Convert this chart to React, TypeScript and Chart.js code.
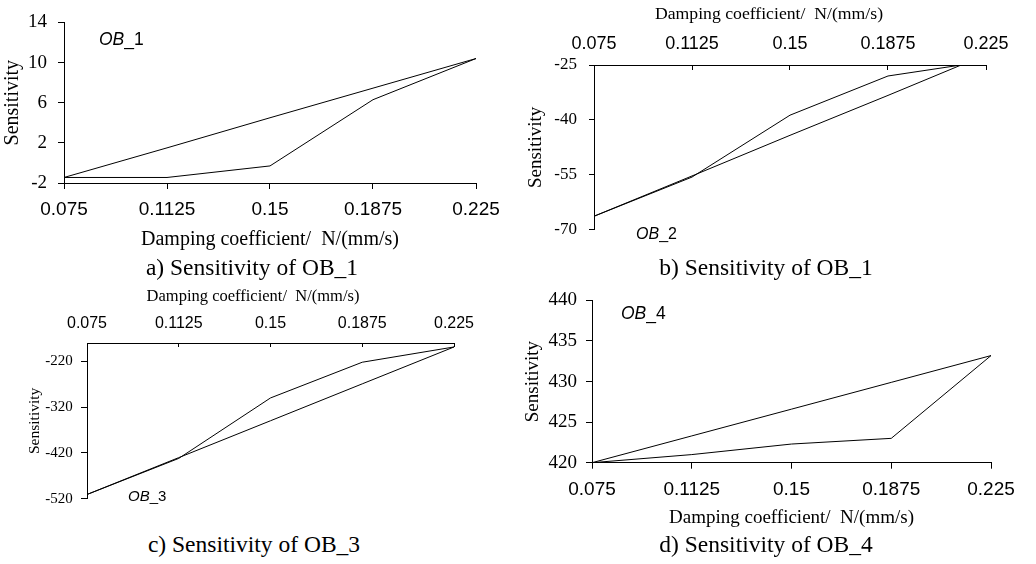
import React, { useEffect, useRef } from 'react';
import { Chart, registerables } from 'chart.js';
Chart.register(...registerables);

// ---------- data ----------
const xTickValues = [0.075, 0.1125, 0.15, 0.1875, 0.225];

const xA = [0.075, 0.1125, 0.15, 0.1875, 0.225];
const aLower = [-1.45, -1.45, -0.3, 6.3, 10.4];
const aUpper = [-1.45, 1.5, 4.5, 7.45, 10.4];
const yTicksA = [-2, 2, 6, 10, 14];

const xB = [0.075, 0.1125, 0.15, 0.1875, 0.2155];
const bCurve = [-66.3, -55.6, -38.7, -28.0, -25];
const bStraight = [-66.3, -55.3, -44.2, -33.3, -25];
const yTicksB = [-70, -55, -40, -25];

const xC = [0.075, 0.1125, 0.15, 0.1875, 0.225];
const cCurve = [-510.8, -432, -300, -222, -188.7];
const cStraight = [-510.8, -430.3, -349.8, -269.2, -188.7];
const yTicksC = [-520, -420, -320, -220];

const xD = [0.075, 0.1125, 0.15, 0.1875, 0.225];
const dLower = [420, 421, 422.3, 423, 433.2];
const dUpper = [420, 423.3, 426.6, 429.9, 433.2];
const yTicksD = [420, 425, 430, 435, 440];

const xTitle = 'Damping coefficient/  N/(mm/s)';
const yTitle = 'Sensitivity';

// ---------- styles ----------
const SANS = '"Liberation Sans", Arial, sans-serif';
const SERIF = '"Liberation Serif", "Times New Roman", serif';

type Spec = {
  left: number; top: number; w: number; h: number;
  xPos: 'top' | 'bottom';
  xs: number[]; series: number[][];
  yMin: number; yMax: number; yTicks: number[];
  padding: { left: number; right: number; top: number; bottom: number };
  yWidth: number; xHeight: number;
  xTickSize: number; xTickPad: number; xTickLen: number;
  xTitleOnAxis: boolean; xTitleSize: number; xTitlePad: number;
  yTickSize: number; yTickPad: number; yTickLen: number;
  yTitleSize: number; yTitlePad: number;
};

const specs: Spec[] = [
  {
    left: 0, top: 0, w: 510, h: 252, xPos: 'bottom',
    xs: xA, series: [aLower, aUpper], yMin: -2, yMax: 14, yTicks: yTicksA,
    padding: { left: 0, right: 34, top: 13, bottom: 0 },
    yWidth: 64, xHeight: 69,
    xTickSize: 19, xTickPad: 9.6, xTickLen: 6, xTitleOnAxis: true, xTitleSize: 20, xTitlePad: 0.5,
    yTickSize: 19, yTickPad: 11, yTickLen: 6, yTitleSize: 20, yTitlePad: 1,
  },
  {
    left: 500, top: 0, w: 536, h: 252, xPos: 'top',
    xs: xB, series: [bCurve, bStraight], yMin: -70, yMax: -25, yTicks: yTicksB,
    padding: { left: 0, right: 50, top: 0, bottom: 14 },
    yWidth: 94, xHeight: 65,
    xTickSize: 18, xTickPad: 15.2, xTickLen: -5, xTitleOnAxis: false, xTitleSize: 18, xTitlePad: 3.2,
    yTickSize: 17, yTickPad: 12, yTickLen: 5, yTitleSize: 19, yTitlePad: 24.6,
  },
  {
    left: 0, top: 280, w: 500, h: 236, xPos: 'top',
    xs: xC, series: [cCurve, cStraight], yMin: -520, yMax: -180, yTicks: yTicksC,
    padding: { left: 0, right: 46, top: 0, bottom: 15 },
    yWidth: 87, xHeight: 63,
    xTickSize: 16, xTickPad: 13.4, xTickLen: -4, xTitleOnAxis: false, xTitleSize: 16.5, xTitlePad: 6.1,
    yTickSize: 15, yTickPad: 8.3, yTickLen: 6, yTitleSize: 15.5, yTitlePad: 25.7,
  },
  {
    left: 500, top: 280, w: 536, h: 252, xPos: 'bottom',
    xs: xD, series: [dLower, dUpper], yMin: 420, yMax: 440, yTicks: yTicksD,
    padding: { left: 0, right: 45, top: 15.7, bottom: 0 },
    yWidth: 92, xHeight: 69.3,
    xTickSize: 19, xTickPad: 9.4, xTickLen: 6, xTitleOnAxis: true, xTitleSize: 19, xTitlePad: 2.6,
    yTickSize: 19, yTickPad: 9, yTickLen: 6, yTitleSize: 19, yTitlePad: 21.6,
  },
];

// x-axis titles of panels b and c sit off-centre in the original, so they are placed directly
const freeXTitles = [
  { x: 769, y: 14, size: 17.7 },
  { x: 253, y: 296, size: 16.5 },
];

const captions = [
  { text: 'a) Sensitivity of OB_1', x: 252, y: 268 },
  { text: 'b) Sensitivity of OB_1', x: 766, y: 268 },
  { text: 'c) Sensitivity of OB_3', x: 254, y: 545 },
  { text: 'd) Sensitivity of OB_4', x: 766, y: 545 },
];

const obLabels = [
  { n: '1', x: 99, y: 31, size: 17.5 },
  { n: '2', x: 636, y: 226, size: 16 },
  { n: '3', x: 128, y: 488, size: 15 },
  { n: '4', x: 621, y: 305, size: 17.5 },
];

function buildConfig(s: Spec): any {
  return {
    type: 'line',
    data: {
      datasets: s.series.map((ys) => ({
        data: s.xs.map((x, i) => ({ x, y: ys[i] })),
        borderColor: '#000',
        borderWidth: 1,
        pointRadius: 0,
        fill: false,
        tension: 0,
      })),
    },
    options: {
      responsive: false,
      animation: false,
      devicePixelRatio: 1,
      layout: { padding: s.padding },
      plugins: { legend: { display: false }, tooltip: { enabled: false } },
      scales: {
        x: {
          type: 'linear',
          position: s.xPos,
          min: 0.075,
          max: 0.225,
          afterBuildTicks: (sc: any) => { sc.ticks = xTickValues.map((v) => ({ value: v })); },
          afterFit: (sc: any) => { sc.height = s.xHeight; },
          ticks: {
            color: '#000',
            font: { family: SANS, size: s.xTickSize },
            padding: s.xTickPad,
            maxRotation: 0,
            autoSkip: false,
            callback: (v: any) => String(v),
          },
          grid: { display: true, drawOnChartArea: false, drawTicks: true, tickLength: s.xTickLen, color: '#000' },
          border: { display: true, color: '#000', width: 1 },
          title: {
            display: s.xTitleOnAxis, text: xTitle, color: '#000',
            font: { family: SERIF, size: s.xTitleSize },
            padding: { top: s.xTitlePad, bottom: s.xTitlePad },
          },
        },
        y: {
          type: 'linear',
          position: 'left',
          min: s.yMin,
          max: s.yMax,
          afterBuildTicks: (sc: any) => { sc.ticks = s.yTicks.map((v) => ({ value: v })); },
          afterFit: (sc: any) => { sc.width = s.yWidth; },
          ticks: {
            color: '#000',
            font: { family: SERIF, size: s.yTickSize },
            padding: s.yTickPad,
            callback: (v: any) => String(v),
          },
          grid: { display: true, drawOnChartArea: false, drawTicks: true, tickLength: s.yTickLen, color: '#000' },
          border: { display: true, color: '#000', width: 1 },
          title: {
            display: true, text: yTitle, color: '#000',
            font: { family: SERIF, size: s.yTitleSize },
            padding: { top: s.yTitlePad, bottom: 0 },
          },
        },
      },
    },
  };
}

function Panel({ spec }: { spec: Spec }) {
  const ref = useRef<HTMLCanvasElement>(null);
  useEffect(() => {
    if (!ref.current) return;
    const chart = new Chart(ref.current, buildConfig(spec));
    return () => chart.destroy();
  }, [spec]);
  return (
    <canvas
      ref={ref}
      width={spec.w}
      height={spec.h}
      style={{ position: 'absolute', left: spec.left, top: spec.top, width: spec.w, height: spec.h }}
    />
  );
}

export default function App() {
  return (
    <div style={{ position: 'absolute', left: 0, top: 0, width: 1036, height: 564, background: '#fff', overflow: 'hidden' }}>
      {specs.map((s, i) => <Panel key={i} spec={s} />)}
      {freeXTitles.map((t, i) => (
        <div
          key={'t' + i}
          style={{
            position: 'absolute', left: t.x, top: t.y, transform: 'translate(-50%, -50%)',
            fontFamily: SERIF, fontSize: t.size, lineHeight: 1, whiteSpace: 'pre', color: '#000',
          }}
        >
          {xTitle}
        </div>
      ))}
      {captions.map((c, i) => (
        <div
          key={'c' + i}
          style={{
            position: 'absolute', left: c.x, top: c.y, transform: 'translate(-50%, -50%)',
            fontFamily: SERIF, fontSize: 23.5, lineHeight: 1, whiteSpace: 'nowrap', color: '#000',
          }}
        >
          {c.text}
        </div>
      ))}
      {obLabels.map((o, i) => (
        <div
          key={'o' + i}
          style={{
            position: 'absolute', left: o.x, top: o.y, fontFamily: SANS, fontSize: o.size,
            lineHeight: 1, whiteSpace: 'nowrap', color: '#000',
          }}
        >
          <span style={{ fontStyle: 'italic' }}>OB</span>_{o.n}
        </div>
      ))}
    </div>
  );
}
